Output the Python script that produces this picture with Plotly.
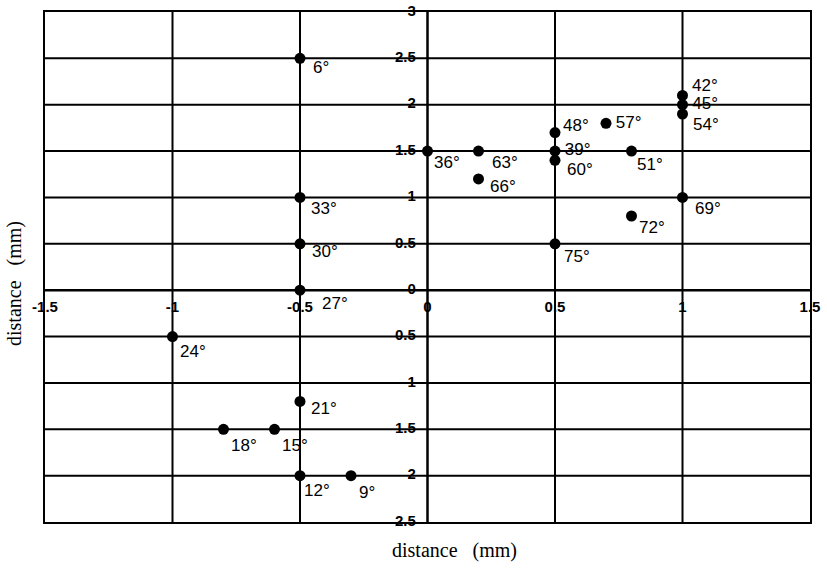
import plotly.graph_objects as go

# ---- data ----
angles = [6, 9, 12, 15, 18, 21, 24, 27, 30, 33, 36, 39, 42, 45, 48,
          51, 54, 57, 60, 63, 66, 69, 72, 75]
x_vals = [-0.5, -0.3, -0.5, -0.6, -0.8, -0.5, -1.0, -0.5, -0.5, -0.5, 0.0, 0.5, 1.0, 1.0, 0.5,
          0.8, 1.0, 0.7, 0.5, 0.2, 0.2, 1.0, 0.8, 0.5]
y_vals = [2.5, -2.0, -2.0, -1.5, -1.5, -1.2, -0.5, 0.0, 0.5, 1.0, 1.5, 1.5, 2.1, 2.0, 1.7,
          1.5, 1.9, 1.8, 1.4, 1.5, 1.2, 1.0, 0.8, 0.5]

x_ticks = [-1.5, -1.0, -0.5, 0.0, 0.5, 1.0, 1.5]
x_tick_labels = ["-1.5", "-1", "-0.5", "0", "0.5", "1", "1.5"]
y_ticks = [-2.5, -2.0, -1.5, -1.0, -0.5, 0.0, 0.5, 1.0, 1.5, 2.0, 2.5, 3.0]
y_tick_labels = ["2.5", "2", "1.5", "1", "0.5", "0", "0.5", "1", "1.5", "2", "2.5", "3"]

x_title = "distance\u00a0\u00a0\u00a0(mm)"
y_title = "distance\u00a0\u00a0\u00a0(mm)"

# ---- label placement (pixel offsets: left edge dx, centre dy downward) ----
inline_labels = {39, 45, 57}  # drawn as a text trace, right of the point
label_offsets = {
    6: (13, 9), 9: (8, 17), 12: (4, 15), 15: (7, 16), 18: (7, 16), 21: (11, 7),
    24: (7, 15), 27: (22, 13), 30: (12, 8), 33: (11, 11), 36: (6, 11),
    42: (9, -10), 48: (8, -7), 51: (5, 13), 54: (10, 10), 60: (12, 9),
    63: (13, 11), 66: (11, 8), 69: (12, 11), 72: (7, 11), 75: (9, 13),
}

label_font = dict(family="Liberation Sans, Arial, sans-serif", size=17, color="black")
tick_font = dict(family="Liberation Sans, Arial, sans-serif", size=15, color="black",
                 weight="bold")
title_font = dict(family="Liberation Serif, Times New Roman, serif", size=20, color="black")

fig = go.Figure()

# points
fig.add_trace(go.Scatter(
    x=x_vals, y=y_vals, mode="markers",
    marker=dict(size=11, color="black"),
    hoverinfo="skip", showlegend=False,
))

# inline labels (text trace, below grid shapes)
ix = [x for a, x in zip(angles, x_vals) if a in inline_labels]
iy = [y for a, y in zip(angles, y_vals) if a in inline_labels]
it = [f"{a}°" for a in angles if a in inline_labels]
fig.add_trace(go.Scatter(
    x=ix, y=iy, mode="markers+text", text=it, textposition="middle right",
    marker=dict(size=14, color="rgba(0,0,0,0)"), textfont=label_font,
    hoverinfo="skip", showlegend=False, cliponaxis=False,
))

# x tick labels along y=0
fig.add_trace(go.Scatter(
    x=x_ticks, y=[0] * len(x_ticks), mode="markers+text", text=x_tick_labels,
    textposition="bottom center", marker=dict(size=16, color="rgba(0,0,0,0)"),
    textfont=tick_font, hoverinfo="skip", showlegend=False, cliponaxis=False,
))
# y tick labels along x=0
fig.add_trace(go.Scatter(
    x=[0] * len(y_ticks), y=y_ticks, mode="markers+text", text=y_tick_labels,
    textposition="middle left", marker=dict(size=17, color="rgba(0,0,0,0)"),
    textfont=tick_font, hoverinfo="skip", showlegend=False, cliponaxis=False,
))

# other labels as annotations
annotations = []
for a, x, y in zip(angles, x_vals, y_vals):
    if a in inline_labels:
        continue
    dx, dy = label_offsets[a]
    annotations.append(dict(
        x=x, y=y, xref="x", yref="y", text=f"{a}°", showarrow=False,
        xanchor="left", yanchor="middle", xshift=dx - 2, yshift=-dy,
        font=label_font,
    ))

annotations.append(dict(x=0.535, y=-0.055, xref="paper", yref="paper", text=x_title,
                        showarrow=False, xanchor="center", yanchor="middle", font=title_font))
annotations.append(dict(x=-0.039, y=0.467, xref="paper", yref="paper", text=y_title,
                        showarrow=False, xanchor="center", yanchor="middle", textangle=-90,
                        font=title_font))

# grid lines as shapes drawn above traces
shapes = []
for xv in x_ticks[1:-1]:
    shapes.append(dict(type="line", xref="x", yref="paper", x0=xv, x1=xv, y0=0, y1=1,
                       line=dict(color="black", width=2.5 if xv == 0 else 2), layer="above"))
for yv in y_ticks[1:-1]:
    shapes.append(dict(type="line", xref="paper", yref="y", x0=0, x1=1, y0=yv, y1=yv,
                       line=dict(color="black", width=2.5 if yv == 0 else 2), layer="above"))

fig.update_layout(
    width=827, height=568,
    margin=dict(l=45, r=17, t=10, b=46),
    paper_bgcolor="white", plot_bgcolor="white",
    annotations=annotations, shapes=shapes,
    xaxis=dict(range=[-1.5, 1.5], showgrid=False, zeroline=False, showticklabels=False,
               ticks="", showline=True, mirror=True, linecolor="black", linewidth=2),
    yaxis=dict(range=[-2.5, 3.0], showgrid=False, zeroline=False, showticklabels=False,
               ticks="", showline=True, mirror=True, linecolor="black", linewidth=2),
)

fig.write_html("out.html", config={"displayModeBar": False},
               post_script="document.body.style.margin='0';document.body.style.overflow='hidden';")
